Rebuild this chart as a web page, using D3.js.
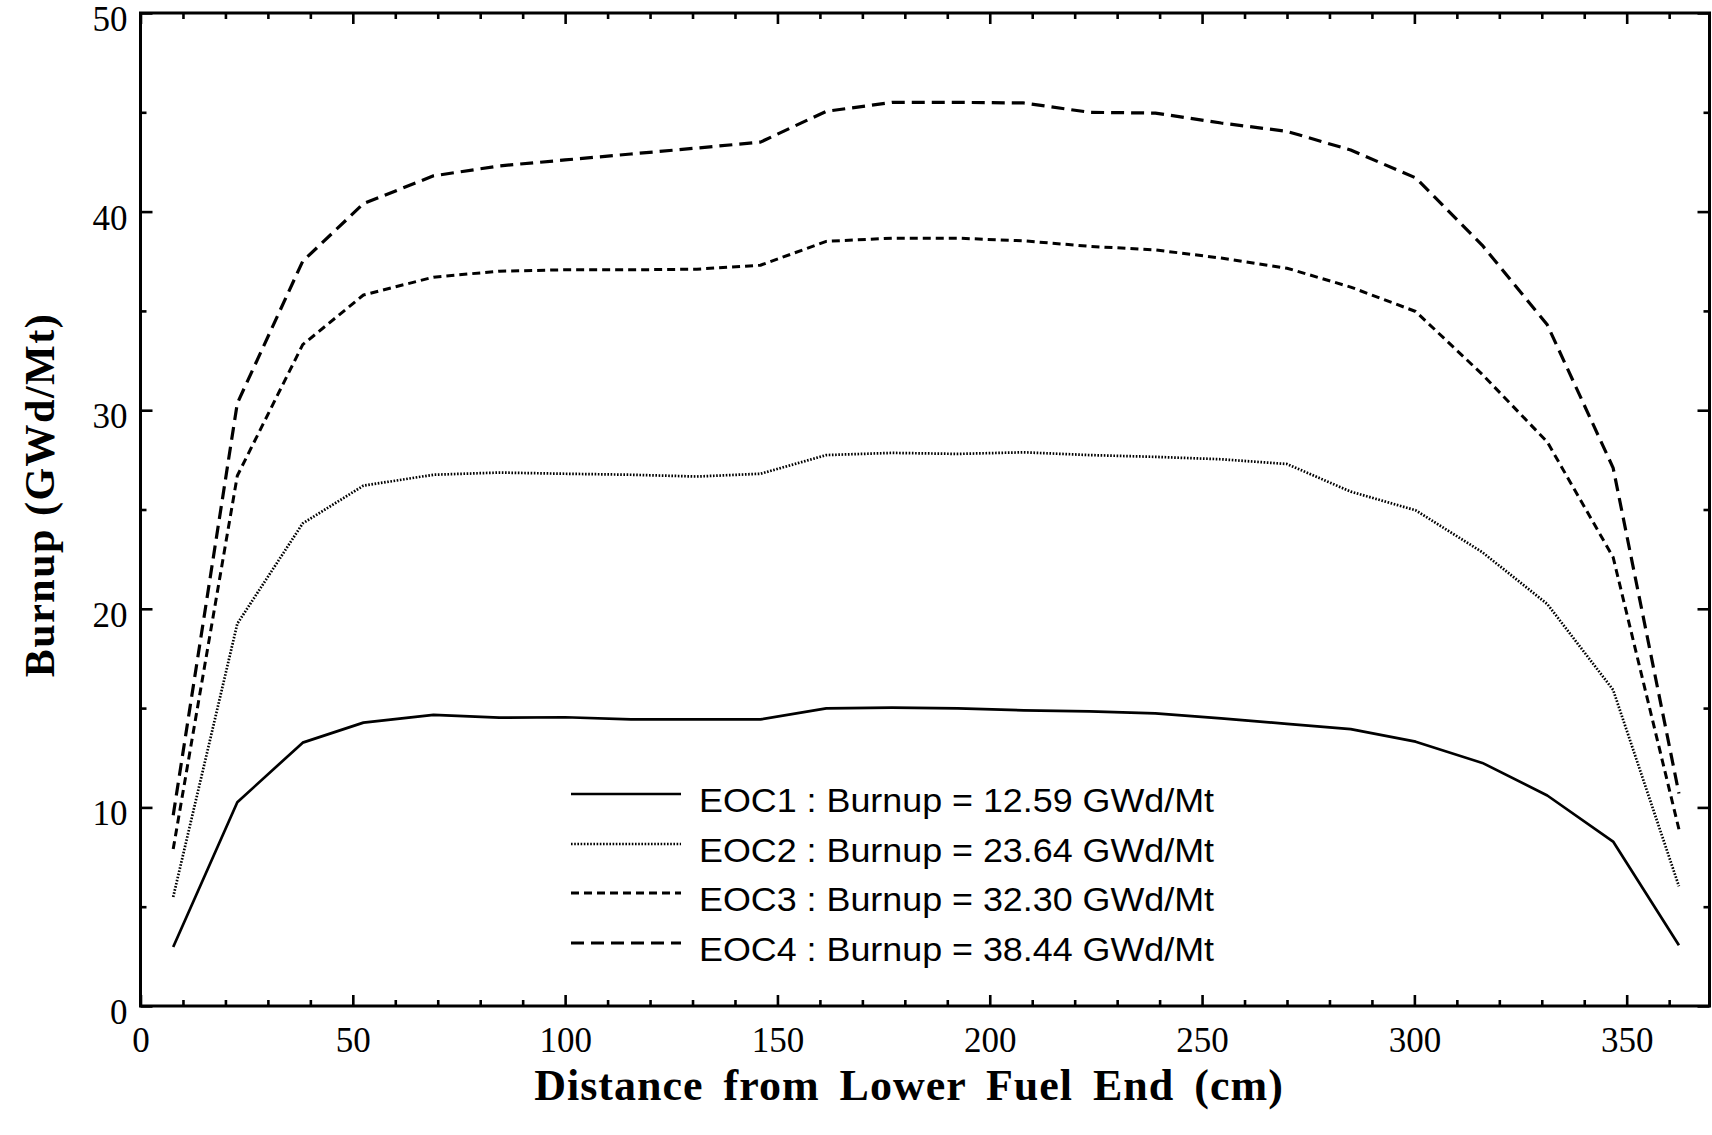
<!DOCTYPE html>
<html>
<head>
<meta charset="utf-8">
<script src="https://cdn.jsdelivr.net/npm/d3@7"></script>
<style>
  html, body { margin: 0; padding: 0; background: #fff; }
  svg { display: block; }
</style>
</head>
<body>
<svg id="chart" width="1712" height="1135"></svg>
<script>
// Axial node positions (cm from lower fuel end)
const positions = [7.7, 22.8, 38.2, 52.5, 69.0, 84.5, 100.0, 115.5, 131.0, 146.0, 161.5, 177.0,
                   192.5, 208.0, 223.5, 239.0, 254.5, 270.0, 285.0, 300.3, 316.0, 331.3, 346.8, 362.3];

// Nodal burnup (GWd/Mt) at the end of each cycle
const eoc1 = [2.97, 10.26, 13.26, 14.27, 14.66, 14.52, 14.54, 14.43, 14.43, 14.43, 14.99, 15.02,
              14.99, 14.89, 14.84, 14.73, 14.48, 14.21, 13.94, 13.31, 12.24, 10.60, 8.28, 3.06];
const eoc2 = [5.49, 19.25, 24.30, 26.20, 26.75, 26.86, 26.80, 26.75, 26.66, 26.80, 27.74, 27.85,
              27.80, 27.88, 27.74, 27.65, 27.53, 27.29, 25.90, 24.96, 22.85, 20.24, 15.92, 6.03];
const eoc3 = [7.90, 26.70, 33.30, 35.80, 36.70, 37.00, 37.07, 37.07, 37.10, 37.30, 38.50, 38.66,
              38.66, 38.53, 38.25, 38.07, 37.66, 37.15, 36.20, 34.97, 31.80, 28.40, 22.60, 8.90];
const eoc4 = [9.60, 30.35, 37.50, 40.40, 41.80, 42.30, 42.60, 42.90, 43.20, 43.50, 45.05, 45.50,
              45.50, 45.47, 45.00, 44.96, 44.46, 44.04, 43.10, 41.70, 38.30, 34.30, 27.10, 10.70];

const seriesNames = ["EOC1", "EOC2", "EOC3", "EOC4"];
const cycleBurnups = ["12.59", "23.64", "32.30", "38.44"];

const xTicks = [0, 50, 100, 150, 200, 250, 300, 350];
const xMinorTicks = [10, 20, 30, 40, 60, 70, 80, 90, 110, 120, 130, 140, 160, 170, 180, 190,
                     210, 220, 230, 240, 260, 270, 280, 290, 310, 320, 330, 340, 360];
const yTicks = [0, 10, 20, 30, 40, 50];
const yMinorTicks = [5, 15, 25, 35, 45];

const xTitle = "Distance from Lower Fuel End (cm)";
const yTitle = "Burnup (GWd/Mt)";

const series = [eoc1, eoc2, eoc3, eoc4];
const strokeStyles = [
  { width: 2.7, dash: null },
  { width: 2.7, dash: "1.6,1.6" },
  { width: 3.0, dash: "8,5" },
  { width: 3.2, dash: "13,7" }
];

const svg = d3.select("#chart");
const plotLeft = 140.5, plotRight = 1709.5, plotTop = 13, plotBottom = 1006;

const x = d3.scaleLinear().domain([0, 369.5]).range([plotLeft, plotRight]);
const y = d3.scaleLinear().domain([0, 50]).range([plotBottom, plotTop]);

const serif = "'Liberation Serif', 'Times New Roman', Times, serif";
const sans = "'Liberation Sans', Arial, Helvetica, sans-serif";

function styleAxis(g) {
  g.select(".domain").remove();
  g.selectAll(".tick line").attr("stroke", "#000").attr("stroke-width", 2.6);
}

// Major ticks with labels
svg.append("g")
  .attr("transform", `translate(0,${plotBottom})`)
  .call(d3.axisBottom(x).tickValues(xTicks).tickSize(-11).tickPadding(21).tickFormat(d3.format("d")))
  .call(styleAxis)
  .call(g => g.selectAll("text")
    .attr("font-family", serif).attr("font-size", 35).attr("fill", "#000"));

svg.append("g")
  .attr("transform", `translate(${plotLeft},0)`)
  .call(d3.axisLeft(y).tickValues(yTicks).tickSize(-12).tickPadding(13).tickFormat(d3.format("d")))
  .call(styleAxis)
  .call(g => g.selectAll("text")
    .attr("font-family", serif).attr("font-size", 35).attr("fill", "#000").attr("dy", "0.5em"));

// Mirrored ticks on top and right edges
svg.append("g")
  .attr("transform", `translate(0,${plotTop})`)
  .call(d3.axisTop(x).tickValues(xTicks).tickSize(-11).tickFormat(""))
  .call(styleAxis);
svg.append("g")
  .attr("transform", `translate(${plotRight},0)`)
  .call(d3.axisRight(y).tickValues(yTicks).tickSize(-12).tickFormat(""))
  .call(styleAxis);

// Minor ticks on all four sides
svg.append("g").attr("transform", `translate(0,${plotBottom})`)
  .call(d3.axisBottom(x).tickValues(xMinorTicks).tickSize(-6).tickFormat("")).call(styleAxis);
svg.append("g").attr("transform", `translate(0,${plotTop})`)
  .call(d3.axisTop(x).tickValues(xMinorTicks).tickSize(-6).tickFormat("")).call(styleAxis);
svg.append("g").attr("transform", `translate(${plotLeft},0)`)
  .call(d3.axisLeft(y).tickValues(yMinorTicks).tickSize(-6).tickFormat("")).call(styleAxis);
svg.append("g").attr("transform", `translate(${plotRight},0)`)
  .call(d3.axisRight(y).tickValues(yMinorTicks).tickSize(-6).tickFormat("")).call(styleAxis);

// Plot frame
svg.append("rect")
  .attr("x", plotLeft).attr("y", plotTop)
  .attr("width", plotRight - plotLeft).attr("height", plotBottom - plotTop)
  .attr("fill", "none").attr("stroke", "#000").attr("stroke-width", 3);

// Burnup profiles
const line = d3.line()
  .x((d, i) => x(positions[i]))
  .y(d => y(d));

svg.append("g").selectAll("path")
  .data(series)
  .join("path")
  .attr("d", line)
  .attr("fill", "none")
  .attr("stroke", "#000")
  .attr("stroke-linejoin", "round")
  .attr("stroke-width", (d, i) => strokeStyles[i].width)
  .attr("stroke-dasharray", (d, i) => strokeStyles[i].dash);

// Legend
const legendRows = [794, 844, 893, 943];
const legend = svg.append("g");
seriesNames.forEach((name, i) => {
  legend.append("line")
    .attr("x1", 571).attr("x2", 681)
    .attr("y1", legendRows[i]).attr("y2", legendRows[i])
    .attr("stroke", "#000")
    .attr("stroke-width", strokeStyles[i].width)
    .attr("stroke-dasharray", strokeStyles[i].dash);
  legend.append("text")
    .attr("x", 699).attr("y", legendRows[i] + 18)
    .attr("font-family", sans).attr("font-size", 34)
    .attr("textLength", 515).attr("lengthAdjust", "spacingAndGlyphs")
    .attr("fill", "#000")
    .text(`${name} : Burnup = ${cycleBurnups[i]} GWd/Mt`);
});

// Axis titles
svg.append("text")
  .attr("x", 909).attr("y", 1100)
  .attr("text-anchor", "middle")
  .attr("font-family", serif).attr("font-weight", "bold").attr("font-size", 44)
  .attr("letter-spacing", 1).attr("word-spacing", 8)
  .attr("fill", "#000")
  .text(xTitle);

svg.append("text")
  .attr("transform", "translate(54,495) rotate(-90)")
  .attr("text-anchor", "middle")
  .attr("font-family", serif).attr("font-weight", "bold").attr("font-size", 42)
  .attr("letter-spacing", 1.5)
  .attr("fill", "#000")
  .text(yTitle);
</script>
</body>
</html>
